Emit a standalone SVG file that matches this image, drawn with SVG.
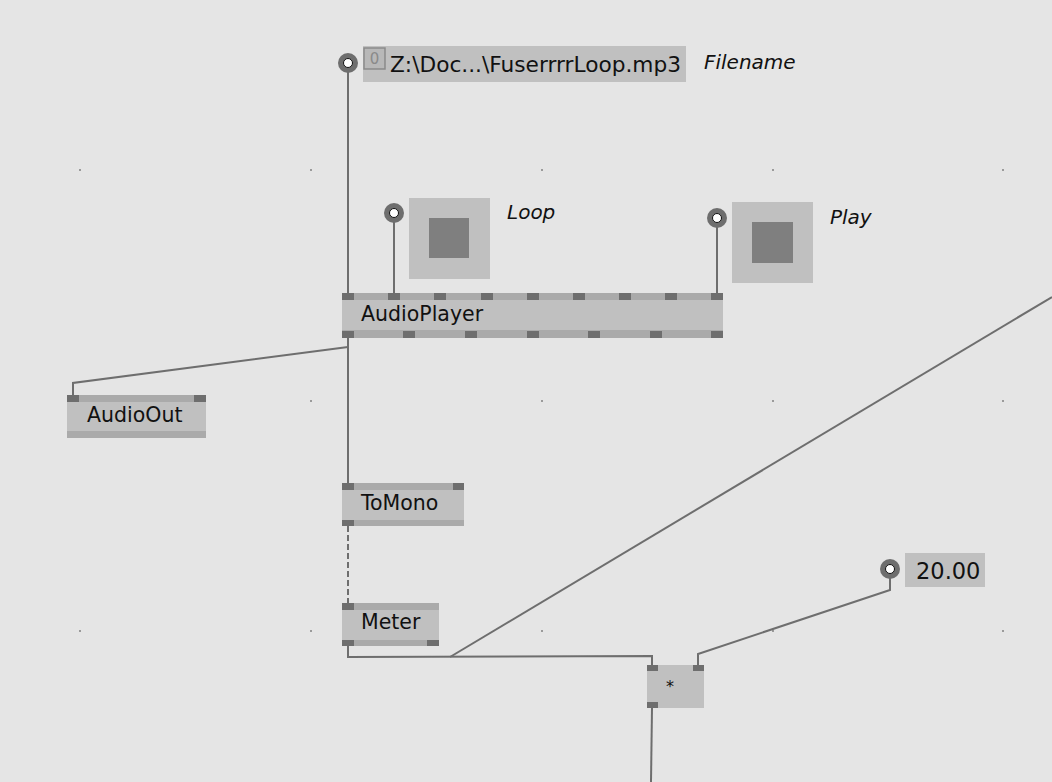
<svg xmlns="http://www.w3.org/2000/svg" width="1052" height="782" viewBox="0 0 1052 782">
<style>
.bg{fill:#e5e5e5}
.node{fill:#c0c0c0}
.band{fill:#aaaaaa}
.pin{fill:#6e6e6e}
.lbl{font-family:"DejaVu Sans","Noto Sans",sans-serif;font-size:20.5px;fill:#111}
.it{font-family:"DejaVu Sans","Noto Sans",sans-serif;font-size:20px;font-style:italic;fill:#111}
.link{stroke:#6e6e6e;stroke-width:2;fill:none}
.dot{fill:#9a9a9a}
.iopin{fill:#6e6e6e}
.iohole{fill:#fff;stroke:#111;stroke-width:1}
</style>
<rect class="bg" x="0" y="0" width="1052" height="782"/>
<g id="grid">
<rect class="dot" x="79" y="169" width="2" height="2"/><rect class="dot" x="310" y="169" width="2" height="2"/><rect class="dot" x="541" y="169" width="2" height="2"/><rect class="dot" x="772" y="169" width="2" height="2"/><rect class="dot" x="1002" y="169" width="2" height="2"/>
<rect class="dot" x="79" y="400" width="2" height="2"/><rect class="dot" x="310" y="400" width="2" height="2"/><rect class="dot" x="541" y="400" width="2" height="2"/><rect class="dot" x="772" y="400" width="2" height="2"/><rect class="dot" x="1002" y="400" width="2" height="2"/>
<rect class="dot" x="79" y="630" width="2" height="2"/><rect class="dot" x="310" y="630" width="2" height="2"/><rect class="dot" x="541" y="630" width="2" height="2"/><rect class="dot" x="772" y="630" width="2" height="2"/><rect class="dot" x="1002" y="630" width="2" height="2"/>
</g>
<g id="connectors">
<path class="link" d="M348 72 V293"/>
<path class="link" d="M394 222 V293"/>
<path class="link" d="M717 227 V293"/>
<path class="link" d="M348 338 V483"/>
<path class="link" d="M348 347 L73 383 V395"/>
<path class="link" d="M348 526 V603" stroke-dasharray="6,3"/>
<path class="link" d="M348 646 V657 L652 656 V665"/>
<path class="link" d="M450 657 L1052 297"/>
<path class="link" d="M890 578 V590 L698 654 V665"/>
<path class="link" d="M652 708 L651 782"/>
</g>
<g id="filename">
<rect class="node" x="363" y="46" width="323" height="36"/>
<rect x="364" y="48" width="21" height="21" fill="#b8b8b8" stroke="#8a8a8a" stroke-width="1.5"/>
<text x="374.5" y="64" font-family="DejaVu Sans,sans-serif" font-size="15" fill="#8a8a8a" text-anchor="middle">0</text>
<text class="lbl" x="390" y="72" style="font-size:22px" textLength="291" lengthAdjust="spacingAndGlyphs">Z:\Doc...\FuserrrrLoop.mp3</text>
<circle class="iopin" cx="348" cy="63" r="10"/>
<circle class="iohole" cx="348" cy="63" r="4.5"/>
<text class="it" x="704" y="69">Filename</text>
</g>
<g id="loop">
<rect class="node" x="409" y="198" width="81" height="81"/>
<rect fill="#7f7f7f" x="429" y="218" width="40" height="40"/>
<circle class="iopin" cx="394" cy="213" r="10"/>
<circle class="iohole" cx="394" cy="213" r="4.5"/>
<text class="it" x="507" y="219">Loop</text>
</g>
<g id="play">
<rect class="node" x="732" y="202" width="81" height="81"/>
<rect fill="#7f7f7f" x="752" y="222" width="41" height="41"/>
<circle class="iopin" cx="717" cy="218" r="10"/>
<circle class="iohole" cx="717" cy="218" r="4.5"/>
<text class="it" x="830" y="224">Play</text>
</g>
<g id="audioplayer">
<rect class="node" x="342" y="293" width="381" height="45"/>
<rect class="band" x="342" y="293" width="381" height="7"/>
<rect class="band" x="342" y="330" width="381" height="8"/>
<rect class="pin" x="342" y="293" width="12" height="7"/><rect class="pin" x="388" y="293" width="12" height="7"/><rect class="pin" x="434" y="293" width="12" height="7"/><rect class="pin" x="481" y="293" width="12" height="7"/><rect class="pin" x="527" y="293" width="12" height="7"/><rect class="pin" x="573" y="293" width="12" height="7"/><rect class="pin" x="619" y="293" width="12" height="7"/><rect class="pin" x="665" y="293" width="12" height="7"/><rect class="pin" x="711" y="293" width="12" height="7"/>
<rect class="pin" x="342" y="331" width="12" height="7"/><rect class="pin" x="403" y="331" width="12" height="7"/><rect class="pin" x="465" y="331" width="12" height="7"/><rect class="pin" x="527" y="331" width="12" height="7"/><rect class="pin" x="588" y="331" width="12" height="7"/><rect class="pin" x="650" y="331" width="12" height="7"/><rect class="pin" x="711" y="331" width="12" height="7"/>
<text class="lbl" x="361" y="321">AudioPlayer</text>
</g>
<g id="audioout">
<rect class="node" x="67" y="395" width="139" height="43"/>
<rect class="band" x="67" y="395" width="139" height="7"/>
<rect class="band" x="67" y="431" width="139" height="7"/>
<rect class="pin" x="67" y="395" width="12" height="7"/><rect class="pin" x="194" y="395" width="12" height="7"/>
<text class="lbl" x="87" y="422">AudioOut</text>
</g>
<g id="tomono">
<rect class="node" x="342" y="483" width="122" height="43"/>
<rect class="band" x="342" y="483" width="122" height="7"/>
<rect class="band" x="342" y="520" width="122" height="6"/>
<rect class="pin" x="342" y="483" width="12" height="7"/><rect class="pin" x="453" y="483" width="11" height="7"/>
<rect class="pin" x="342" y="520" width="12" height="6"/>
<text class="lbl" x="361" y="510">ToMono</text>
</g>
<g id="meter">
<rect class="node" x="342" y="603" width="97" height="43"/>
<rect class="band" x="342" y="603" width="97" height="7"/>
<rect class="band" x="342" y="640" width="97" height="6"/>
<rect class="pin" x="342" y="603" width="12" height="7"/>
<rect class="pin" x="342" y="640" width="12" height="6"/><rect class="pin" x="427" y="640" width="12" height="6"/>
<text class="lbl" x="361" y="629">Meter</text>
</g>
<g id="multiply">
<rect class="node" x="647" y="665" width="57" height="43"/>
<rect class="pin" x="647" y="665" width="11" height="6"/><rect class="pin" x="693" y="665" width="11" height="6"/>
<rect class="pin" x="647" y="702" width="11" height="6"/>
<text x="670" y="692" font-family="DejaVu Sans,sans-serif" font-size="16" fill="#111" text-anchor="middle">*</text>
</g>
<g id="value">
<rect class="node" x="905" y="553" width="80" height="34"/>
<circle class="iopin" cx="890" cy="569" r="10"/>
<circle class="iohole" cx="890" cy="569" r="4.5"/>
<text class="lbl" x="916" y="579" style="font-size:22.5px">20.00</text>
</g>
</svg>
